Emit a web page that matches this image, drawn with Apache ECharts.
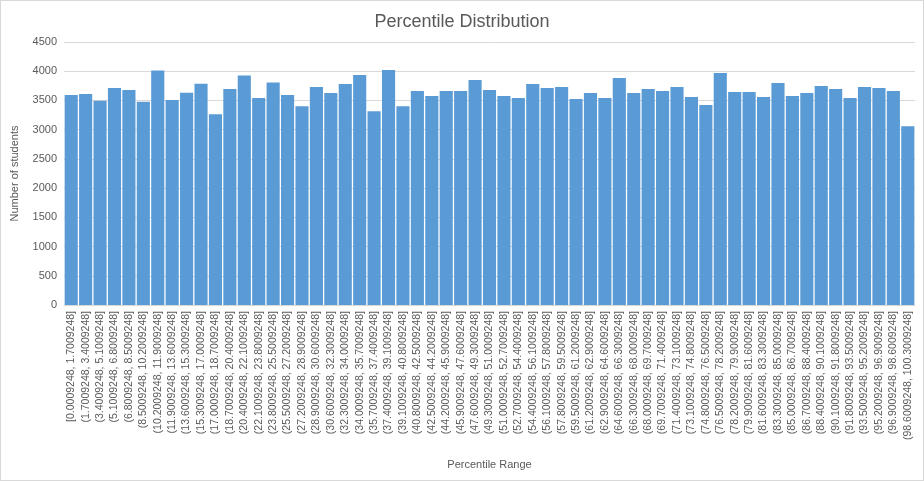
<!DOCTYPE html>
<html>
<head>
<meta charset="utf-8">
<script src="https://cdn.jsdelivr.net/npm/echarts@6/dist/echarts.min.js"></script>
<style>
html,body{margin:0;padding:0;background:#fff;}
#c{width:922px;height:479px;border:1px solid #d9d9d9;}
</style>
</head>
<body>
<div id="c"></div>
<script>
const categories = [
"[0.0009248, 1.7009248]","(1.7009248, 3.4009248]","(3.4009248, 5.1009248]","(5.1009248, 6.8009248]","(6.8009248, 8.5009248]",
"(8.5009248, 10.2009248]","(10.2009248, 11.9009248]","(11.9009248, 13.6009248]","(13.6009248, 15.3009248]","(15.3009248, 17.0009248]",
"(17.0009248, 18.7009248]","(18.7009248, 20.4009248]","(20.4009248, 22.1009248]","(22.1009248, 23.8009248]","(23.8009248, 25.5009248]",
"(25.5009248, 27.2009248]","(27.2009248, 28.9009248]","(28.9009248, 30.6009248]","(30.6009248, 32.3009248]","(32.3009248, 34.0009248]",
"(34.0009248, 35.7009248]","(35.7009248, 37.4009248]","(37.4009248, 39.1009248]","(39.1009248, 40.8009248]","(40.8009248, 42.5009248]",
"(42.5009248, 44.2009248]","(44.2009248, 45.9009248]","(45.9009248, 47.6009248]","(47.6009248, 49.3009248]","(49.3009248, 51.0009248]",
"(51.0009248, 52.7009248]","(52.7009248, 54.4009248]","(54.4009248, 56.1009248]","(56.1009248, 57.8009248]","(57.8009248, 59.5009248]",
"(59.5009248, 61.2009248]","(61.2009248, 62.9009248]","(62.9009248, 64.6009248]","(64.6009248, 66.3009248]","(66.3009248, 68.0009248]",
"(68.0009248, 69.7009248]","(69.7009248, 71.4009248]","(71.4009248, 73.1009248]","(73.1009248, 74.8009248]","(74.8009248, 76.5009248]",
"(76.5009248, 78.2009248]","(78.2009248, 79.9009248]","(79.9009248, 81.6009248]","(81.6009248, 83.3009248]","(83.3009248, 85.0009248]",
"(85.0009248, 86.7009248]","(86.7009248, 88.4009248]","(88.4009248, 90.1009248]","(90.1009248, 91.8009248]","(91.8009248, 93.5009248]",
"(93.5009248, 95.2009248]","(95.2009248, 96.9009248]","(96.9009248, 98.6009248]","(98.6009248, 100.3009248]"
];
const counts = [
3592,3609,3494,3713,3678,3477,4011,3506,3632,3787,
3264,3695,3925,3540,3805,3592,3402,3730,3626,3781,
3937,3316,4023,3402,3661,3575,3661,3661,3851,3678,
3575,3540,3781,3713,3730,3523,3626,3540,3885,3626,
3695,3661,3730,3558,3420,3971,3644,3644,3558,3799,
3575,3626,3747,3695,3540,3730,3713,3661,3057
];
const yTicks = {min:0, max:4500, interval:500};

const chart = echarts.init(document.getElementById('c'), null, {renderer:'canvas'});
const txt = '#595959';
const ff = '"Liberation Sans", "DejaVu Sans", sans-serif';
chart.setOption({
  animation:false,
  backgroundColor:'#fff',
  textStyle:{fontFamily:ff},
  title:{text:'Percentile Distribution', left:'center', top:7,
    textStyle:{fontSize:18, fontWeight:'normal', color:txt, fontFamily:ff}},
  grid:{left:62, right:8, top:41, bottom:175},
  xAxis:{type:'category', data:categories,
    name:'Percentile Range', nameLocation:'middle', nameGap:154,
    nameTextStyle:{color:txt, fontSize:11, fontFamily:ff},
    axisLine:{lineStyle:{color:'#d9d9d9', width:1}},
    axisTick:{show:false},
    axisLabel:{interval:0, rotate:90, color:txt, fontSize:10.5, margin:6, fontFamily:ff}},
  yAxis:{type:'value', min:yTicks.min, max:yTicks.max, interval:yTicks.interval,
    name:'Number of students', nameLocation:'middle', nameGap:44,
    nameTextStyle:{color:txt, fontSize:11, fontFamily:ff},
    axisLine:{show:false}, axisTick:{show:false},
    axisLabel:{color:txt, fontSize:11, margin:7, fontFamily:ff, formatter:function(v){return String(v);}},
    splitLine:{lineStyle:{color:'#d9d9d9', width:1}}},
  series:[{type:'bar', data:counts, barCategoryGap:'9%',
    itemStyle:{color:'#5b9bd5'}}]
});
</script>
</body>
</html>
